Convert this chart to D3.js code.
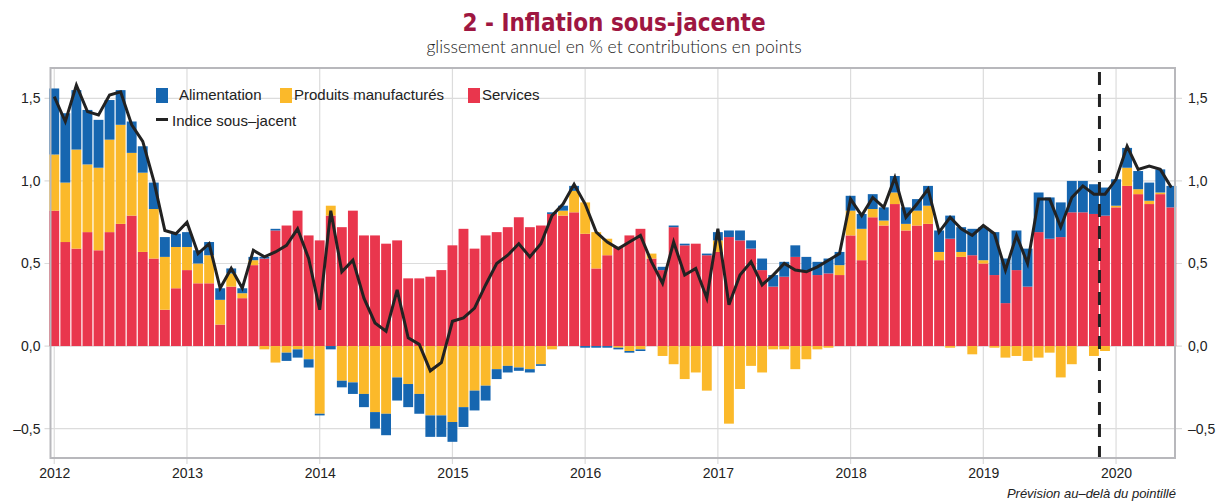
<!DOCTYPE html>
<html>
<head>
<meta charset="utf-8">
<script src="https://cdn.jsdelivr.net/npm/d3@7"></script>
<style>
  body { margin: 0; background: #fff; }
  svg text { font-family: "Liberation Sans", Arial, sans-serif; }
</style>
</head>
<body>
<div id="chart"></div>
<script>
// données mensuelles, janvier 2012 -> juin 2020
var debut = new Date(2012, 0, 1);
var services = [0.82,0.63,0.59,0.69,0.58,0.69,0.74,0.79,0.57,0.53,0.22,0.35,
  0.46,0.38,0.38,0.13,0.36,0.29,0.49,0.53,0.70,0.73,0.82,0.67,
  0.64,0.79,0.72,0.82,0.67,0.67,0.62,0.64,0.41,0.41,0.42,0.46,
  0.61,0.71,0.59,0.67,0.69,0.72,0.78,0.72,0.73,0.80,0.79,0.81,
  0.68,0.47,0.55,0.60,0.67,0.71,0.53,0.46,0.72,0.61,0.62,0.55,
  0.57,0.66,0.64,0.59,0.46,0.36,0.42,0.54,0.46,0.43,0.44,0.43,
  0.67,0.52,0.78,0.73,0.86,0.70,0.73,0.74,0.52,0.65,0.54,0.55,
  0.50,0.43,0.26,0.46,0.36,0.69,0.65,0.66,0.81,0.81,0.80,0.79,
  0.84,0.97,0.92,0.86,0.92,0.84];
var manufactures = [0.34,0.36,0.60,0.41,0.50,0.56,0.60,0.38,0.48,0.30,0.32,0.25,
  0.14,0.12,0.17,0.15,0.08,0.03,0.03,-0.02,-0.10,-0.04,-0.02,-0.08,
  -0.41,0.06,-0.21,-0.22,-0.29,-0.40,-0.41,-0.19,-0.23,-0.29,-0.42,-0.42,
  -0.46,-0.37,-0.27,-0.24,-0.14,-0.12,-0.13,-0.14,-0.11,-0.02,0.03,0.13,
  0.19,0.22,0.10,-0.01,-0.03,-0.02,0.03,-0.06,-0.11,-0.20,-0.16,-0.27,
  0.07,-0.47,-0.26,-0.12,-0.16,-0.02,-0.02,-0.14,-0.08,-0.02,-0.01,0.06,
  0.15,0.19,0.05,0.03,0.07,0.04,0.09,0.11,0.05,-0.01,0.03,-0.05,
  0.02,-0.01,-0.07,-0.06,-0.09,-0.07,-0.04,-0.19,-0.11,0,-0.06,-0.03,
  0.01,0.11,0.03,0.02,0.01,0];
var alimentation = [0.40,0.42,0.36,0.33,0.29,0.24,0.21,0.19,0.16,0.16,0.12,0.08,
  0.09,0.08,0.08,0.07,0.03,0.03,0.02,0.01,0.01,-0.05,-0.05,-0.05,
  -0.01,-0.02,-0.04,-0.07,-0.08,-0.10,-0.13,-0.14,-0.14,-0.12,-0.13,-0.13,
  -0.12,-0.12,-0.12,-0.09,-0.06,-0.04,-0.02,-0.02,-0.01,0.01,0.03,0.03,
  -0.01,-0.01,-0.01,-0.01,-0.01,-0.01,0,0.02,0.01,0.01,0,0.01,
  0.05,0.04,0.06,0.05,0.07,0.07,0.09,0.07,0.08,0.08,0.09,0.08,
  0.09,0.09,0.09,0.08,0.10,0.10,0.07,0.12,0.13,0.14,0.15,0.16,
  0.20,0.26,0.27,0.24,0.23,0.24,0.25,0.21,0.19,0.19,0.18,0.17,
  0.16,0.12,0.11,0.11,0.14,0.13];
var indice = [1.51,1.36,1.58,1.42,1.40,1.52,1.54,1.34,1.24,1.00,0.70,0.68,
  0.75,0.56,0.62,0.35,0.47,0.35,0.58,0.54,0.57,0.61,0.71,0.53,
  0.22,0.82,0.45,0.52,0.29,0.14,0.09,0.34,0.05,0.01,-0.15,-0.10,
  0.15,0.17,0.23,0.37,0.50,0.55,0.62,0.54,0.62,0.79,0.86,0.98,
  0.86,0.69,0.63,0.59,0.63,0.67,0.51,0.38,0.63,0.43,0.47,0.29,
  0.71,0.25,0.43,0.51,0.37,0.43,0.50,0.46,0.45,0.48,0.52,0.56,
  0.89,0.79,0.90,0.84,1.02,0.78,0.86,0.95,0.69,0.78,0.71,0.67,
  0.73,0.68,0.46,0.67,0.50,0.89,0.89,0.72,0.90,0.97,0.92,0.92,
  1.01,1.21,1.07,1.09,1.07,0.96];
var annees = [2012,2013,2014,2015,2016,2017,2018,2019,2020];
var yTicks = [-0.5, 0, 0.5, 1, 1.5];
var debutPrevision = new Date(2019, 11, 1); // pointillé avant décembre 2019

var series = [
  {cle: "services", nom: "Services", couleur: "#e9364d"},
  {cle: "manuf", nom: "Produits manufacturés", couleur: "#fbb92a"},
  {cle: "alim", nom: "Alimentation", couleur: "#1666b0"}
];

var W = 1225, H = 501;
var gauche = 50.5, droite = 1175, haut = 68, bas = 458;

var data = services.map(function(s, i){
  return {i: i, date: d3.timeMonth.offset(debut, i), services: s,
    manuf: manufactures[i], alim: alimentation[i], indice: indice[i]};
});

var moisIdx = function(d){ return d3.timeMonth.count(debut, d); };

var x = d3.scaleLinear().domain([-0.34, 101.33]).range([gauche, droite]);
var y = d3.scaleLinear().domain([-0.678, 1.684]).range([bas, haut]);
var largeur = x(1) - x(0) - 1.2;

var svg = d3.select("#chart").append("svg")
  .attr("width", W).attr("height", H);

// titre
svg.append("text").attr("x", 614).attr("y", 31)
  .attr("text-anchor", "middle")
  .style("font-family", "'DejaVu Sans Condensed', 'DejaVu Sans', sans-serif")
  .style("font-weight", "bold").style("font-size", "24px")
  .attr("fill", "#9e1641")
  .text("2 - Inflation sous-jacente");
svg.append("text").attr("x", 614).attr("y", 53)
  .attr("text-anchor", "middle")
  .style("font-family", "Lato, sans-serif").style("font-weight", 300)
  .style("font-size", "17.5px").attr("fill", "#222")
  .text("glissement annuel en % et contributions en points");

// grille
var fmt = function(v){ return d3.format(".1f")(Math.abs(v)).replace(".", ",").replace(/^/, v < 0 ? "\u2013" : ""); };

var grille = svg.append("g");
grille.selectAll(".gy").data(yTicks).enter().append("line")
  .attr("x1", gauche - 6).attr("x2", droite + 7)
  .attr("y1", d => y(d)).attr("y2", d => y(d))
  .attr("stroke", "#dcdcdc").attr("stroke-width", 1.2);
grille.selectAll(".gx").data(annees).enter().append("line")
  .attr("x1", d => x(moisIdx(new Date(d, 0, 1)))).attr("x2", d => x(moisIdx(new Date(d, 0, 1))))
  .attr("y1", haut).attr("y2", bas + 6)
  .attr("stroke", "#dcdcdc").attr("stroke-width", 1.2);

// axes
var axeG = svg.append("g").attr("transform", "translate(" + (gauche - 8) + ",0)")
  .call(d3.axisLeft(y).tickValues(yTicks).tickFormat(fmt).tickSize(0).tickPadding(2));
var axeD = svg.append("g").attr("transform", "translate(" + (droite + 10) + ",0)")
  .call(d3.axisRight(y).tickValues(yTicks).tickFormat(fmt).tickSize(0).tickPadding(3));
var axeX = svg.append("g").attr("transform", "translate(0," + (bas + 2) + ")")
  .call(d3.axisBottom(x).tickValues(annees.map(a => moisIdx(new Date(a, 0, 1))))
    .tickFormat((d, i) => annees[i]).tickSize(0).tickPadding(8));
[axeG, axeD, axeX].forEach(function(a){
  a.select(".domain").remove();
  a.selectAll("text").style("font-size", "14px").attr("fill", "#222")
    .style("font-family", "'Liberation Sans', Arial, sans-serif");
});

// barres empilées
var pile = d3.stack().keys(["services", "manuf", "alim"]).offset(d3.stackOffsetDiverging)(data);
svg.append("g").selectAll("g").data(pile).enter().append("g")
  .attr("fill", (d, k) => series[k].couleur)
  .selectAll("rect").data(d => d).enter().append("rect")
  .attr("x", d => x(d.data.i) - largeur / 2)
  .attr("width", largeur)
  .attr("y", d => y(Math.max(d[0], d[1])))
  .attr("height", d => Math.abs(y(d[0]) - y(d[1])));

// courbe de l'indice
svg.append("path").datum(data)
  .attr("fill", "none").attr("stroke", "#222").attr("stroke-width", 3)
  .attr("stroke-linejoin", "miter")
  .attr("d", d3.line().x(d => x(d.i)).y(d => y(d.indice)));

// pointillé de prévision
var xp = x(moisIdx(debutPrevision) - 0.5);
svg.append("line").attr("x1", xp).attr("x2", xp).attr("y1", haut + 4).attr("y2", bas)
  .attr("stroke", "#222").attr("stroke-width", 3).attr("stroke-dasharray", "13,9");

// cadre
svg.append("rect").attr("x", gauche).attr("y", haut)
  .attr("width", droite - gauche).attr("height", bas - haut)
  .attr("fill", "none").attr("stroke", "#b8b8bc").attr("stroke-width", 2);

// légende
var leg = svg.append("g").style("font-size", "15px");
var legItems = [
  {s: series[2], x: 156, tx: 179},
  {s: series[1], x: 280, tx: 294},
  {s: series[0], x: 468, tx: 482}
];
legItems.forEach(function(l){
  leg.append("rect").attr("x", l.x).attr("y", 88).attr("width", 12).attr("height", 15)
    .attr("fill", l.s.couleur);
  leg.append("text").attr("x", l.tx).attr("y", 99.5).attr("fill", "#222").text(l.s.nom);
});
leg.append("line").attr("x1", 156).attr("x2", 168).attr("y1", 119.5).attr("y2", 119.5)
  .attr("stroke", "#222").attr("stroke-width", 3);
leg.append("text").attr("x", 172).attr("y", 125.5).attr("fill", "#222").text("Indice sous\u2013jacent");

// note
svg.append("text").attr("x", 1176).attr("y", 498).attr("text-anchor", "end")
  .style("font-size", "13px").style("font-style", "italic").attr("fill", "#222")
  .text("Pr\u00e9vision au\u2013del\u00e0 du pointill\u00e9");
</script>
</body>
</html>
